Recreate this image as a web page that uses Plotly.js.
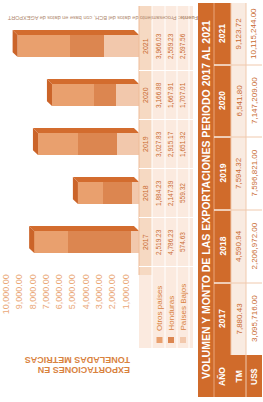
<!DOCTYPE html>
<html><head><meta charset="utf-8">
<script src="https://cdn.plot.ly/plotly-3.0.1.min.js"></script>
<style>html,body{margin:0;padding:0;background:#fff}#c{width:263px;height:402px}</style>
</head><body><div id="c"></div>
<script>
// ---- data ----
const years = [2017, 2018, 2019, 2020, 2021];
const otrosPaises = [2519.23, 1884.23, 3027.83, 3166.88, 3966.03];
const honduras = [4786.23, 2147.39, 2915.17, 1667.91, 2559.23];
const paisesBajos = [574.63, 559.32, 1651.32, 1707.01, 2597.56];
const otrosLabels = ['2,519.23', '1,884.23', '3,027.83', '3,166.88', '3,966.03'];
const hondurasLabels = ['4,786.23', '2,147.39', '2,915.17', '1,667.91', '2,559.23'];
const pbLabels = ['574.63', '559.32', '1,651.32', '1,707.01', '2,597.56'];
const tm = ['7,880.43', '4,590.94', '7,594.32', '6,541.80', '9,123.72'];
const usd = ['3,095,716.00', '2,206,972.00', '7,596,821.00', '7,147,209.00', '10,115,244.00'];
const tickVals = [1000, 2000, 3000, 4000, 5000, 6000, 7000, 8000, 9000, 10000];
const tickText = ['1,000.00', '2,000.00', '3,000.00', '4,000.00', '5,000.00', '6,000.00', '7,000.00', '8,000.00', '9,000.00', '10,000.00'];
const seriesNames = ['Otros países', 'Honduras', 'Países Bajos'];
const title = 'VOLUMEN Y MONTO DE LAS EXPORTACIONES PERIODO 2017 AL 2021';
const axisTitle1 = 'EXPORTACIONES EN';
const axisTitle2 = 'TONELADAS METRICAS';
const source = '<b>Fuente:</b> Procesamiento de datos del BCH, con base en datos de AGEXPORT';

// ---- style ----
const W = 263, H = 402;
const C_OTROS = '#e9a06e', C_HOND = '#dc8650', C_PB = '#f2c8ac';
const C_STRIP = '#d36c2e', C_END = '#cb6429';
const ORANGE = '#d06b2b', TXT = '#c96a30', LIGHT = '#fbeadf';
const px = x => x / W, py = y => 1 - y / H;

const traces = [
  {name: seriesNames[2], x: paisesBajos, color: C_PB},
  {name: seriesNames[1], x: honduras, color: C_HOND},
  {name: seriesNames[0], x: otrosPaises, color: C_OTROS}
].map(s => ({type: 'bar', orientation: 'h', name: s.name, x: s.x, y: years, width: 0.45,
  marker: {color: s.color, line: {width: 0}}, hoverinfo: 'skip', showlegend: false}));

const shapes = [];
const annotations = [];
const rect = (x0, y0, x1, y1, fill, extra) => shapes.push(Object.assign({type: 'rect', xref: 'paper', yref: 'paper',
  x0: px(x0), x1: px(x1), y0: py(y1), y1: py(y0), fillcolor: fill, line: {width: 0}, layer: 'below'}, extra || {}));
const line = (x0, y0, x1, y1, color, w) => shapes.push({type: 'line', xref: 'paper', yref: 'paper',
  x0: px(x0), x1: px(x1), y0: py(y0), y1: py(y1), line: {color: color, width: w || 1}});
const note = (xPix, yPix, text, angle, size, color, extra) => annotations.push(Object.assign({xref: 'paper', yref: 'paper',
  x: px(xPix), y: py(yPix), xanchor: 'center', yanchor: 'middle', text: text, textangle: angle, showarrow: false,
  font: {size: size, color: color}}, extra || {}));

// 3D faces of bars
const dX = 380, dY = 0.1, half = 0.225;
years.forEach((yr, i) => {
  const tot = otrosPaises[i] + honduras[i] + paisesBajos[i];
  const yt = yr + half, yb = yr - half;
  shapes.push({type: 'path', xref: 'x', yref: 'y', layer: 'above', fillcolor: C_STRIP, line: {width: 0},
    path: `M 0,${yt} L ${tot},${yt} L ${tot + dX},${yt + dY} L ${dX},${yt + dY} Z`});
  shapes.push({type: 'path', xref: 'x', yref: 'y', layer: 'above', fillcolor: C_END, line: {width: 0},
    path: `M ${tot},${yb} L ${tot},${yt} L ${tot + dX},${yt + dY} L ${tot + dX},${yb + dY} Z`});
});

// data table under bars (rotated)
rect(139, 6, 193, 348, LIGHT);
rect(139, 6, 152, 275, '#f6d9c2');
[152, 165, 177, 189].forEach(x => line(x, 6, x, 348, '#ffffff', 1));
line(139, 6, 139, 275, '#eebc98', 1);
years.forEach((yr) => {
  const b = yr - 0.5;
  shapes.push({type: 'line', xref: 'paper', yref: 'y', x0: px(139), x1: px(193), y0: b, y1: b, line: {color: '#ffffff', width: 1}});
});
const cellText = (xPix, yr, txt, size, color) => annotations.push({xref: 'paper', yref: 'y', x: px(xPix), y: yr,
  xanchor: 'center', yanchor: 'middle', text: txt, textangle: -90, showarrow: false, font: {size: size, color: color}});
years.forEach((yr, i) => {
  cellText(146, yr, String(yr), 7, TXT);
  cellText(159, yr, otrosLabels[i], 6.5, TXT);
  cellText(171, yr, hondurasLabels[i], 6.5, TXT);
  cellText(183, yr, pbLabels[i], 6.5, TXT);
});
// legend (row labels)
[C_OTROS, C_HOND, C_PB].forEach((c, k) => {
  const xc = [159.5, 171, 183][k];
  rect(xc - 3, 337, xc + 3, 343, c, {layer: 'above'});
  note(xc, 333, seriesNames[k], -90, 8, '#d9823e', {yanchor: 'bottom'});
});

// main table on the right
rect(198, 3, 214, 397, ORANGE);
rect(214, 3, 231, 397, ORANGE);
rect(214, 355, 262, 397, ORANGE);
rect(231, 3, 246, 355, '#f9ebe1');
line(214, 3, 214, 397, '#e9a57a', 1);
const colEdges = [355, 283, 210, 137, 65, 3];
colEdges.slice(1, 5).forEach(y => line(214, y, 262, y, '#f0c9ad', 1));
colEdges.slice(1, 5).forEach(y => line(214, y, 231, y, '#ffffff', 1));
line(231, 3, 231, 355, '#f0c9ad', 1);
line(246, 3, 246, 397, '#f0c9ad', 1);
note(206, 200, '<b>' + title + '</b>', -90, 10.5, '#ffffff');
[['AÑO', 222], ['TM', 238.5], ['US$', 254]].forEach(([t, x]) => note(x, 377, '<b>' + t + '</b>', -90, 8.5, '#ffffff'));
years.forEach((yr, i) => {
  const yc = (colEdges[i] + colEdges[i + 1]) / 2;
  note(222, yc, '<b>' + yr + '</b>', -90, 8.5, '#ffffff');
  note(238.5, yc, tm[i], -90, 8, TXT);
  note(254, yc, usd[i], -90, 8, TXT);
});

// axis title (upside down) and source
note(132, 360, '<b>' + axisTitle2 + '</b>', 180, 9, '#d9823e', {xanchor: 'right'});
note(132, 370, '<b>' + axisTitle1 + '</b>', 180, 9, '#d9823e', {xanchor: 'right'});
note(103, 18, source, 180, 5.5, '#b08a70');

const layout = {
  width: W, height: H, margin: {l: 0, r: 0, t: 0, b: 0}, paper_bgcolor: '#fff', plot_bgcolor: 'rgba(0,0,0,0)',
  barmode: 'stack', bargap: 0,
  font: {family: 'Liberation Sans, Arial, sans-serif'},
  xaxis: {domain: [px(6), px(139)], range: [10000, 0], tickvals: tickVals, ticktext: tickText, tickangle: -90,
    tickfont: {size: 9, color: '#eaa878'}, showgrid: false, zeroline: false, showline: false, ticks: '', automargin: false, fixedrange: true},
  yaxis: {domain: [py(271.4), py(21.5)], range: [2016.4, 2021.5], visible: false, automargin: false, fixedrange: true},
  shapes: shapes, annotations: annotations
};
Plotly.newPlot('c', traces, layout, {displayModeBar: false, staticPlot: true});
</script></body></html>
